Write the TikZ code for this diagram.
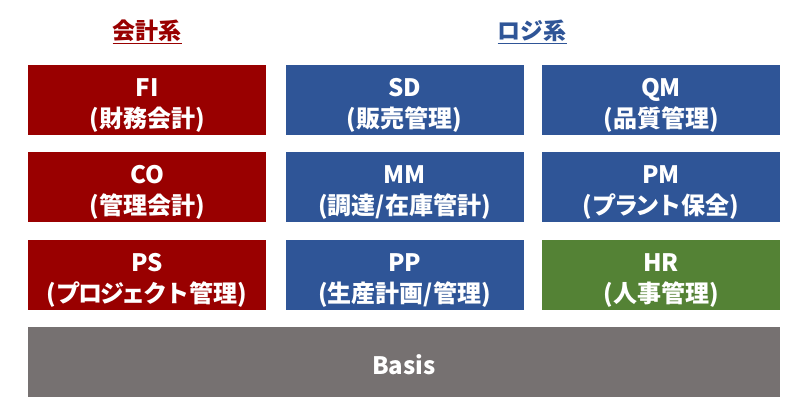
\documentclass[tikz,border=0pt]{standalone}
\usepackage{fontspec}
\setmainfont{Noto Sans CJK JP}
\definecolor{fired}{HTML}{990000}
\definecolor{logblue}{HTML}{2F5597}
\definecolor{hrgreen}{HTML}{548235}
\definecolor{basisgray}{HTML}{767171}
\newcommand\modlbl[2]{\raisebox{-12pt}[0pt][0pt]{\begin{tabular}{@{}c@{}}#1\\#2\end{tabular}}}
\newcommand\kana[1]{{\addfontfeature{LetterSpace=-9}#1}}
\tikzset{
  mod/.style={minimum width=238pt, minimum height=70pt, inner sep=0pt, text=white,
    font=\bfseries\fontsize{24}{31}\selectfont},
  redbox/.style={mod, fill=fired},
  bluebox/.style={mod, fill=logblue},
  greenbox/.style={mod, fill=hrgreen},
  hdr/.style={font=\bfseries\fontsize{23}{26}\selectfont, inner sep=0pt}
}
\begin{document}
\begin{tikzpicture}[x=1pt,y=-1pt]
\useasboundingbox (0,0) rectangle (805,419);
\node[hdr, text=fired] (h1) at (147,32) {\underline{会計系}};
\node[hdr, text=logblue] (h2) at (532,32) {\underline{ロジ系}};
\node[redbox] (fi) at (147,100) {\modlbl{FI}{(財務会計)}};
\node[redbox] (co) at (147,187) {\modlbl{CO}{(管理会計)}};
\node[redbox] (ps) at (147,275) {\modlbl{PS}{(\kana{プロジェクト}管理)}};
\node[bluebox] (sd) at (404.5,100) {\modlbl{SD}{(販売管理)}};
\node[bluebox] (mm) at (404.5,187) {\modlbl{MM}{(調達/在庫管計)}};
\node[bluebox] (pp) at (404.5,275) {\modlbl{PP}{(生産計画/管理)}};
\node[bluebox] (qm) at (661,100) {\modlbl{QM}{(品質管理)}};
\node[bluebox] (pm) at (661,187) {\modlbl{PM}{(\kana{プラント}保全)}};
\node[greenbox] (hr) at (661,275) {\modlbl{HR}{(人事管理)}};
\node[mod, fill=basisgray, minimum width=752pt] (basis) at (404,362) {\raisebox{-12pt}[0pt][0pt]{Basis}};
\end{tikzpicture}
\end{document}
